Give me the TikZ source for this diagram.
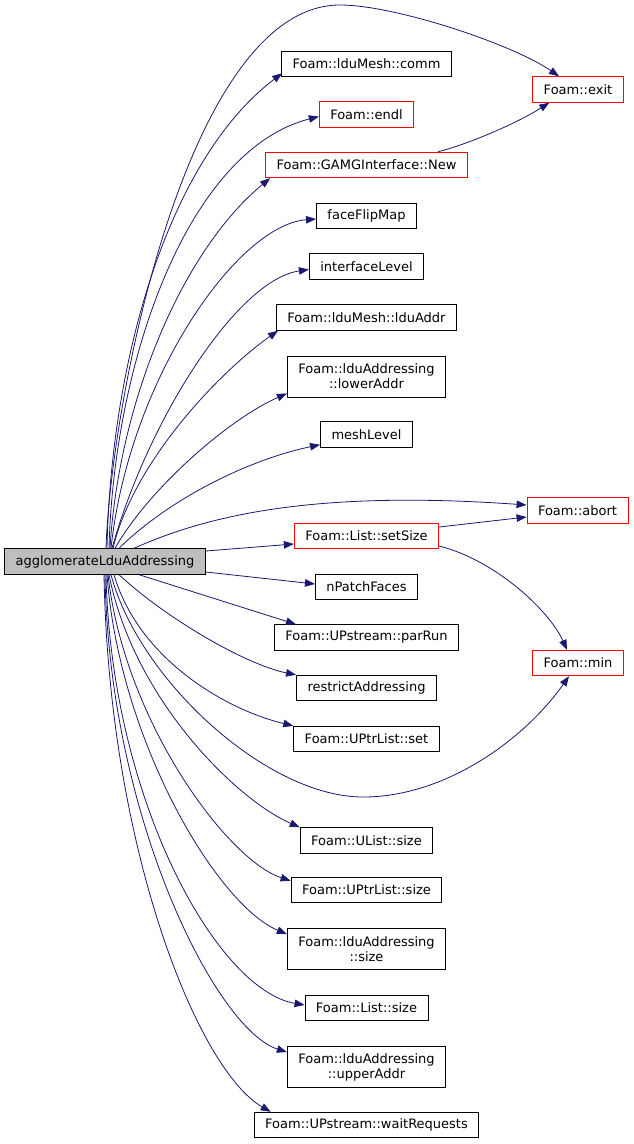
\documentclass[tikz,border=0pt]{standalone}
\usepackage{fontspec}
\setmainfont{DejaVu Sans}
\usepackage{tikz}
\usetikzlibrary{arrows.meta,positioning}
\definecolor{callblue}{RGB}{25,25,112}

\begin{document}
\begin{tikzpicture}[x=1pt,y=-1pt,>={Triangle[length=10pt,width=7.5pt]},
    fn/.style={draw,rectangle,line width=0.9pt,inner xsep=11pt,inner ysep=2pt,minimum height=25.5pt,font=\fontsize{13}{15}\selectfont},
    two/.style={fn,align=center,minimum height=41pt},
    hot/.style={fn,draw=red},
    e/.style={draw=callblue,line width=0.8pt,->}]
    \useasboundingbox (0,0) rectangle (633,1144);
    \node[fn,fill=black!25] (agg) at (105,561.5) {agglomerateLduAddressing};
    \node[fn] (comm) at (366.5,64) {Foam::lduMesh::comm};
    \node[hot] (exit) at (578,89.5) {Foam::exit};
    \node[hot] (endl) at (366.5,114.5) {Foam::endl};
    \node[hot] (gamg) at (366.5,165) {Foam::GAMGInterface::New};
    \node[fn] (faceflip) at (366.5,216) {faceFlipMap};
    \node[fn] (ifacelevel) at (366.5,266.5) {interfaceLevel};
    \node[fn] (lduaddr) at (366.5,317.5) {Foam::lduMesh::lduAddr};
    \node[two] (loweraddr) at (366.5,376.5) {Foam::lduAddressing\\::lowerAddr};
    \node[fn] (meshlevel) at (366.5,434.5) {meshLevel};
    \node[hot] (abort) at (577.5,510.5) {Foam::abort};
    \node[hot] (setsize) at (366.5,536) {Foam::List::setSize};
    \node[fn] (npatch) at (366.5,587) {nPatchFaces};
    \node[fn] (parrun) at (366.5,637.5) {Foam::UPstream::parRun};
    \node[hot] (min) at (578,663) {Foam::min};
    \node[fn] (restrict) at (366.5,688) {restrictAddressing};
    \node[fn] (uptrset) at (366.5,739) {Foam::UPtrList::set};
    \node[fn] (ulistsize) at (366.5,840.5) {Foam::UList::size};
    \node[fn] (uptrsize) at (366.5,890) {Foam::UPtrList::size};
    \node[two] (lduaddrsize) at (366.5,949) {Foam::lduAddressing\\::size};
    \node[fn] (listsize) at (366.5,1008) {Foam::List::size};
    \node[two] (upperaddr) at (366.5,1067) {Foam::lduAddressing\\::upperAddr};
    \node[fn] (wait) at (366.5,1125) {Foam::UPstream::waitRequests};
    % calls going up
    \draw[e] ([xshift=1pt]agg.north) .. controls (111,400) and (188,5) .. (340,5)
        .. controls (396,5) and (514,45) .. ([xshift=-19pt]exit.north);
    \draw[e] ([xshift=2pt]agg.north) .. controls (111,360) and (168,160) .. ([shift={(1pt,4pt)}]comm.south west);
    \draw[e] ([xshift=4pt]agg.north) .. controls (114,360) and (188,150) .. ([yshift=-2pt]endl.west);
    \draw[e] ([xshift=5pt]agg.north) .. controls (119,400) and (183,250) .. ([xshift=5pt]gamg.south west);
    \draw[e] ([xshift=6pt]agg.north) .. controls (129,380) and (237,225) .. ([yshift=-3pt]faceflip.west);
    \draw[e] ([xshift=7pt]agg.north) .. controls (148,420) and (237,280) .. ([yshift=-3pt]ifacelevel.west);
    \draw[e] ([xshift=8pt]agg.north) .. controls (134,460) and (222,370) .. ([xshift=2pt]lduaddr.south west);
    \draw[e] ([xshift=10pt]agg.north) .. controls (148,490) and (227,420) .. ([yshift=4pt]loweraddr.south west);
    \draw[e] ([xshift=14pt]agg.north) .. controls (168,500) and (247,460) .. ([yshift=3pt]meshlevel.south west);
    \draw[e] ([xshift=29pt]agg.north) .. controls (208,515) and (316,490) .. ([yshift=5.5pt]abort.west);
    % straight calls
    \draw[e] ([yshift=10.5pt]agg.east) -- ([yshift=-8pt]setsize.west);
    \draw[e] ([yshift=-10.5pt]agg.east) -- ([yshift=3pt]npatch.west);
    \draw[e] ([xshift=34pt]agg.south) -- ([xshift=22pt]parrun.north west);
    % calls going down
    \draw[e] ([xshift=14pt]agg.south) .. controls (168,620) and (247,665) .. (restrict.north west);
    \draw[e] ([xshift=9pt]agg.south) .. controls (139,660) and (227,710) .. (uptrset.north west);
    \draw[e] ([xshift=6pt]agg.south) .. controls (139,680) and (267,797) .. (363,797)
        .. controls (445,797) and (524,740) .. ([xshift=-9pt]min.south);
    \draw[e] ([xshift=4pt]agg.south) .. controls (134,700) and (237,800) .. (ulistsize.north west);
    \draw[e] ([xshift=3pt]agg.south) .. controls (124,720) and (227,860) .. ([yshift=-4pt]uptrsize.north west);
    \draw[e] ([xshift=2pt]agg.south) .. controls (119,740) and (217,905) .. ([yshift=-6pt]lduaddrsize.north west);
    \draw[e] ([xshift=1pt]agg.south) .. controls (111,800) and (217,990) .. ([yshift=3pt]listsize.west);
    \draw[e] (agg.south) .. controls (109,820) and (217,1030) .. ([yshift=-6pt]upperaddr.north west);
    \draw[e] ([xshift=-1pt]agg.south) .. controls (109,850) and (198,1070) .. ([xshift=17pt]wait.north west);
    % calls between callees
    \draw[e] ([xshift=-30pt]gamg.north east) .. controls (465,145) and (514,125) .. ([xshift=17pt]exit.south west);
    \draw[e] ([yshift=9pt]setsize.east) -- ([yshift=-6.5pt]abort.west);
    \draw[e] ([yshift=-10pt]setsize.east) .. controls (495,560) and (549,610) .. ([xshift=-11pt]min.north);
\end{tikzpicture}
\end{document}
